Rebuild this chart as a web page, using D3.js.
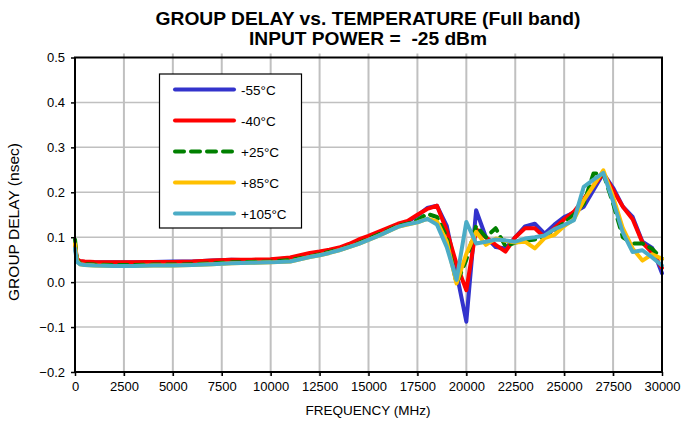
<!DOCTYPE html>
<html><head><meta charset="utf-8">
<script src="https://cdn.jsdelivr.net/npm/d3@7"></script>
<style>body{margin:0;background:#fff}svg{font-family:Arial,"Liberation Sans",sans-serif}</style>
</head><body><svg id="c" width="681" height="421"></svg>
<script>
const freqs = [0,100,250,500,1000,2000,3000,4000,5000,6000,7000,8000,9000,10000,11000,12000,12500,13000,13500,14000,14500,15000,15500,16000,16500,17000,17500,18000,18500,19000,19500,20000,20500,21000,21500,22000,22500,23000,23500,24000,24500,25000,25500,26000,26500,27000,27500,28000,28500,29000,29500,30000];
const seriesNames = ["-55°C","-40°C","+25°C","+85°C","+105°C"];
const m55 = [0.080,0.050,0.046,0.045,0.044,0.044,0.044,0.045,0.046,0.046,0.048,0.050,0.049,0.050,0.053,0.062,0.066,0.070,0.075,0.082,0.092,0.100,0.108,0.118,0.127,0.134,0.148,0.165,0.170,0.125,0.020,-0.088,0.160,0.100,0.078,0.075,0.100,0.124,0.130,0.108,0.128,0.145,0.155,0.168,0.205,0.242,0.210,0.168,0.145,0.090,0.076,0.020];
const m40 = [0.085,0.052,0.047,0.046,0.045,0.044,0.044,0.045,0.045,0.046,0.048,0.050,0.050,0.051,0.055,0.065,0.068,0.072,0.077,0.085,0.095,0.103,0.112,0.121,0.130,0.136,0.150,0.163,0.170,0.115,0.040,-0.018,0.118,0.100,0.083,0.068,0.100,0.120,0.120,0.100,0.120,0.140,0.157,0.185,0.215,0.242,0.205,0.168,0.140,0.088,0.065,0.032];
const p25 = [0.095,0.050,0.042,0.040,0.039,0.038,0.038,0.039,0.039,0.040,0.042,0.044,0.045,0.046,0.049,0.057,0.062,0.067,0.072,0.079,0.087,0.096,0.106,0.115,0.125,0.130,0.138,0.152,0.145,0.100,-0.003,0.050,0.125,0.100,0.120,0.080,0.088,0.092,0.095,0.100,0.115,0.132,0.150,0.175,0.242,0.242,0.175,0.100,0.086,0.086,0.074,0.052];
const p85 = [0.085,0.048,0.040,0.038,0.037,0.036,0.036,0.037,0.037,0.038,0.040,0.042,0.043,0.044,0.046,0.056,0.060,0.065,0.071,0.078,0.085,0.094,0.103,0.113,0.123,0.128,0.133,0.141,0.135,0.090,-0.003,0.063,0.112,0.083,0.097,0.092,0.088,0.090,0.075,0.098,0.105,0.125,0.140,0.182,0.215,0.249,0.190,0.120,0.075,0.048,0.062,0.052];
const p105 = [0.075,0.045,0.040,0.038,0.037,0.036,0.036,0.037,0.037,0.038,0.040,0.042,0.043,0.044,0.046,0.056,0.060,0.065,0.071,0.078,0.085,0.094,0.103,0.113,0.123,0.129,0.133,0.141,0.128,0.078,0.005,0.134,0.086,0.090,0.095,0.093,0.090,0.097,0.100,0.104,0.118,0.127,0.138,0.212,0.228,0.243,0.180,0.110,0.067,0.071,0.055,0.037];
const xTicks = [0,2500,5000,7500,10000,12500,15000,17500,20000,22500,25000,27500,30000];
const yTicks = [-0.2,-0.1,0.0,0.1,0.2,0.3,0.4,0.5];

const seriesData = [m55,m40,p25,p85,p105];
const colors = ["#3333cc","#ff0000","#008000","#ffc000","#4bacc6"];
const dashes = [null,null,"9,7",null,null];

const svg = d3.select("#c");
const L=75,R=662,T=57.5,B=372;
const x = d3.scaleLinear().domain([0,30000]).range([L,R]);
const y = d3.scaleLinear().domain([-0.2,0.5]).range([B,T]);

svg.append("g").selectAll("line").data(xTicks.slice(1,-1)).join("line")
  .attr("x1",d=>x(d)).attr("x2",d=>x(d)).attr("y1",T-4).attr("y2",B+4)
  .attr("stroke","#c0c0c0").attr("stroke-width",2);
svg.append("g").selectAll("line").data(yTicks.slice(1,-1)).join("line")
  .attr("x1",L).attr("x2",R).attr("y1",d=>y(d)).attr("y2",d=>y(d))
  .attr("stroke","#c0c0c0").attr("stroke-width",1.5);

const line = d3.line().x((d,i)=>x(freqs[i])).y(d=>y(d));
seriesData.forEach((s,k)=>{
  svg.append("path").datum(s).attr("d",line).attr("fill","none")
    .attr("stroke",colors[k]).attr("stroke-width",4)
    .attr("stroke-linejoin","round").attr("stroke-linecap","round")
    .attr("stroke-dasharray",dashes[k]);
});

svg.append("rect").attr("x",L).attr("y",T).attr("width",R-L).attr("height",B-T)
  .attr("fill","none").attr("stroke","#000").attr("stroke-width",2);

const xa = svg.append("g").attr("transform",`translate(0,${B})`)
  .call(d3.axisBottom(x).tickValues(xTicks).tickSize(4).tickPadding(6).tickFormat(d3.format("d")));
const ya = svg.append("g").attr("transform",`translate(${L},0)`)
  .call(d3.axisLeft(y).tickValues(yTicks).tickSize(4).tickPadding(6).tickFormat(d3.format(".1f")));
[xa,ya].forEach(a=>{
  a.select(".domain").remove();
  a.selectAll("line").attr("stroke","#000").attr("stroke-width",1.5);
  a.selectAll("text").attr("font-size",13).attr("fill","#000").attr("font-family","Arial,'Liberation Sans',sans-serif");
});

svg.append("text").attr("x",368).attr("y",25).attr("text-anchor","middle")
  .attr("font-size",18).attr("font-weight","bold")
  .attr("textLength",425).attr("lengthAdjust","spacingAndGlyphs")
  .text("GROUP DELAY vs. TEMPERATURE (Full band)");
svg.append("text").attr("x",368).attr("y",45).attr("text-anchor","middle")
  .attr("font-size",18).attr("font-weight","bold").style("white-space","pre")
  .attr("textLength",238).attr("lengthAdjust","spacingAndGlyphs")
  .text("INPUT POWER =  -25 dBm");
svg.append("text").attr("x",368).attr("y",415).attr("text-anchor","middle")
  .attr("font-size",13.5).text("FREQUENCY (MHz)");
svg.append("text").attr("transform","translate(19,222) rotate(-90)").attr("text-anchor","middle")
  .attr("font-size",14).attr("textLength",158).attr("lengthAdjust","spacingAndGlyphs")
  .text("GROUP DELAY (nsec)");

const lg = svg.append("g");
lg.append("rect").attr("x",159.5).attr("y",74).attr("width",142).attr("height",154)
  .attr("fill","#fff").attr("stroke","#000").attr("stroke-width",1.2);
seriesNames.forEach((n,k)=>{
  const yy = 89.5 + k*31;
  lg.append("line").attr("x1",175).attr("x2",234).attr("y1",yy).attr("y2",yy)
    .attr("stroke",colors[k]).attr("stroke-width",4).attr("stroke-linecap","round")
    .attr("stroke-dasharray",dashes[k]);
  lg.append("text").attr("x",241).attr("y",yy+5).attr("font-size",13.5).text(n);
});
</script></body></html>
